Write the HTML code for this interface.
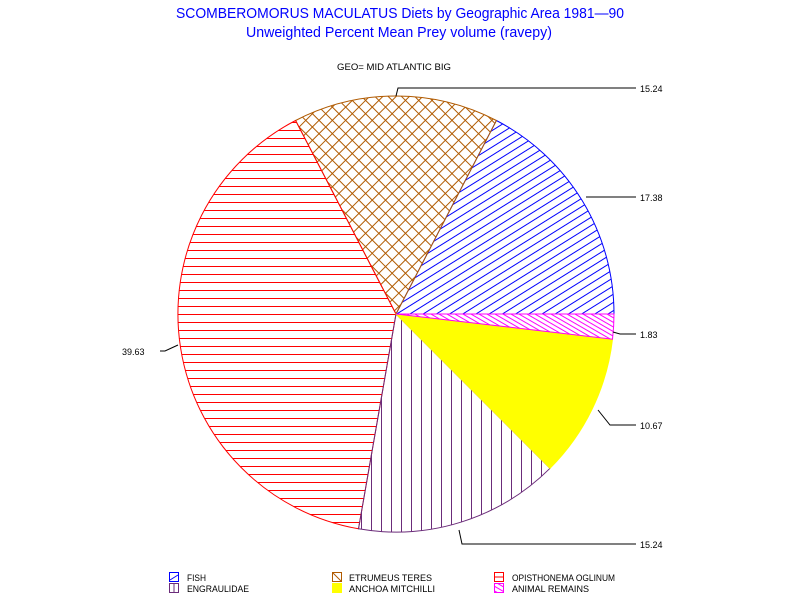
<!DOCTYPE html>
<html><head><style>body{margin:0;background:#fff}svg{display:block}</style></head><body>
<svg width="800" height="600" xmlns="http://www.w3.org/2000/svg" font-family="Liberation Sans, sans-serif">
<defs>
<pattern id="pf" patternUnits="userSpaceOnUse" width="40" height="7" patternTransform="rotate(-32)"><rect x="0" y="0" width="40" height="1" fill="#0000ff"/></pattern>
<pattern id="pe" patternUnits="userSpaceOnUse" width="9.4" height="9.4" patternTransform="rotate(45)"><rect x="0" y="0" width="9.4" height="1" fill="#b05a00"/><rect x="0" y="0" width="1" height="9.4" fill="#b05a00"/></pattern>
<pattern id="po" patternUnits="userSpaceOnUse" width="40" height="8" y="2"><rect x="0" y="0" width="40" height="1" fill="#ff0000"/></pattern>
<pattern id="pg" patternUnits="userSpaceOnUse" width="10" height="40" x="1"><rect x="0" y="0" width="1" height="40" fill="#6b2c7a"/></pattern>
<pattern id="pa" patternUnits="userSpaceOnUse" width="40" height="4" patternTransform="rotate(30)"><rect x="0" y="0" width="40" height="1" fill="#ff00ff"/></pattern>
</defs>
<text x="400" y="18" fill="#0000ff" font-size="15" text-anchor="middle" textLength="448" lengthAdjust="spacingAndGlyphs">SCOMBEROMORUS MACULATUS Diets by Geographic Area 1981—90</text>
<text x="399" y="37" fill="#0000ff" font-size="15" text-anchor="middle" textLength="306" lengthAdjust="spacingAndGlyphs">Unweighted Percent Mean Prey volume (ravepy)</text>
<text x="394" y="70" fill="#000" font-size="9" text-anchor="middle" textLength="114" lengthAdjust="spacingAndGlyphs">GEO= MID ATLANTIC BIG</text>

<g stroke-width="1">
<path d="M396,314 L614,314 A218,218 0 0 0 496.4,120.5 Z" fill="url(#pf)" stroke="#0000ff"/>
<path d="M396,314 L496.4,120.5 A218,218 0 0 0 295.6,120.5 Z" fill="url(#pe)" stroke="#b05a00"/>
<path d="M396,314 L295.6,120.5 A218,218 0 0 0 358.5,528.8 Z" fill="url(#po)" stroke="#ff0000"/>
<path d="M396,314 L358.5,528.8 A218,218 0 0 0 550,468.3 Z" fill="url(#pg)" stroke="#6b2c7a"/>
<path d="M396,314 L550,468.3 A218,218 0 0 0 612.5,339.2 Z" fill="#ffff00" stroke="#ffff00"/>
<path d="M396,314 L612.5,339.2 A218,218 0 0 0 614,314 Z" fill="url(#pa)" stroke="#ff00ff"/>
</g>

<g stroke="#000" fill="none" stroke-width="1">
<polyline points="396,96 398,88 636,88"/>
<polyline points="586,197 598,197 636,197"/>
<polyline points="613,332 620,334 636,334"/>
<polyline points="598,410 610,425 636,425"/>
<polyline points="459,530 462,544 636,544"/>
<polyline points="178,345 165,351 160,351"/>
</g>
<g font-size="9" fill="#000">
<text x="640" y="92">15.24</text>
<text x="640" y="201">17.38</text>
<text x="640" y="338">1.83</text>
<text x="640" y="429">10.67</text>
<text x="640" y="548">15.24</text>
<text x="122" y="355">39.63</text>
</g>

<g stroke-width="1">
<rect x="169.5" y="572.5" width="9" height="9" fill="#fff" stroke="#0000ff"/><line x1="170" y1="580" x2="178" y2="575" stroke="#0000ff"/>
<rect x="169.5" y="583.5" width="9" height="9" fill="#fff" stroke="#6b2c7a"/><line x1="174" y1="584" x2="174" y2="592" stroke="#6b2c7a"/>
<rect x="332.5" y="572.5" width="9" height="9" fill="#fff" stroke="#b05a00"/><line x1="333" y1="573" x2="341" y2="581" stroke="#b05a00"/>
<rect x="332.5" y="583.5" width="9" height="9" fill="#ffff00" stroke="#ffff00"/>
<rect x="494.5" y="572.5" width="9" height="9" fill="#fff" stroke="#ff0000"/><line x1="495" y1="577" x2="503" y2="577" stroke="#ff0000"/>
<rect x="494.5" y="583.5" width="9" height="9" fill="url(#pa)" stroke="#ff00ff"/>
</g>
<g font-size="9" fill="#000">
<text x="187" y="581" textLength="19" lengthAdjust="spacingAndGlyphs">FISH</text>
<text x="187" y="592" textLength="62" lengthAdjust="spacingAndGlyphs">ENGRAULIDAE</text>
<text x="349" y="581" textLength="83" lengthAdjust="spacingAndGlyphs">ETRUMEUS TERES</text>
<text x="349" y="592" textLength="86" lengthAdjust="spacingAndGlyphs">ANCHOA MITCHILLI</text>
<text x="512" y="581" textLength="103" lengthAdjust="spacingAndGlyphs">OPISTHONEMA OGLINUM</text>
<text x="512" y="592" textLength="77" lengthAdjust="spacingAndGlyphs">ANIMAL REMAINS</text>
</g>
</svg>
</body></html>
